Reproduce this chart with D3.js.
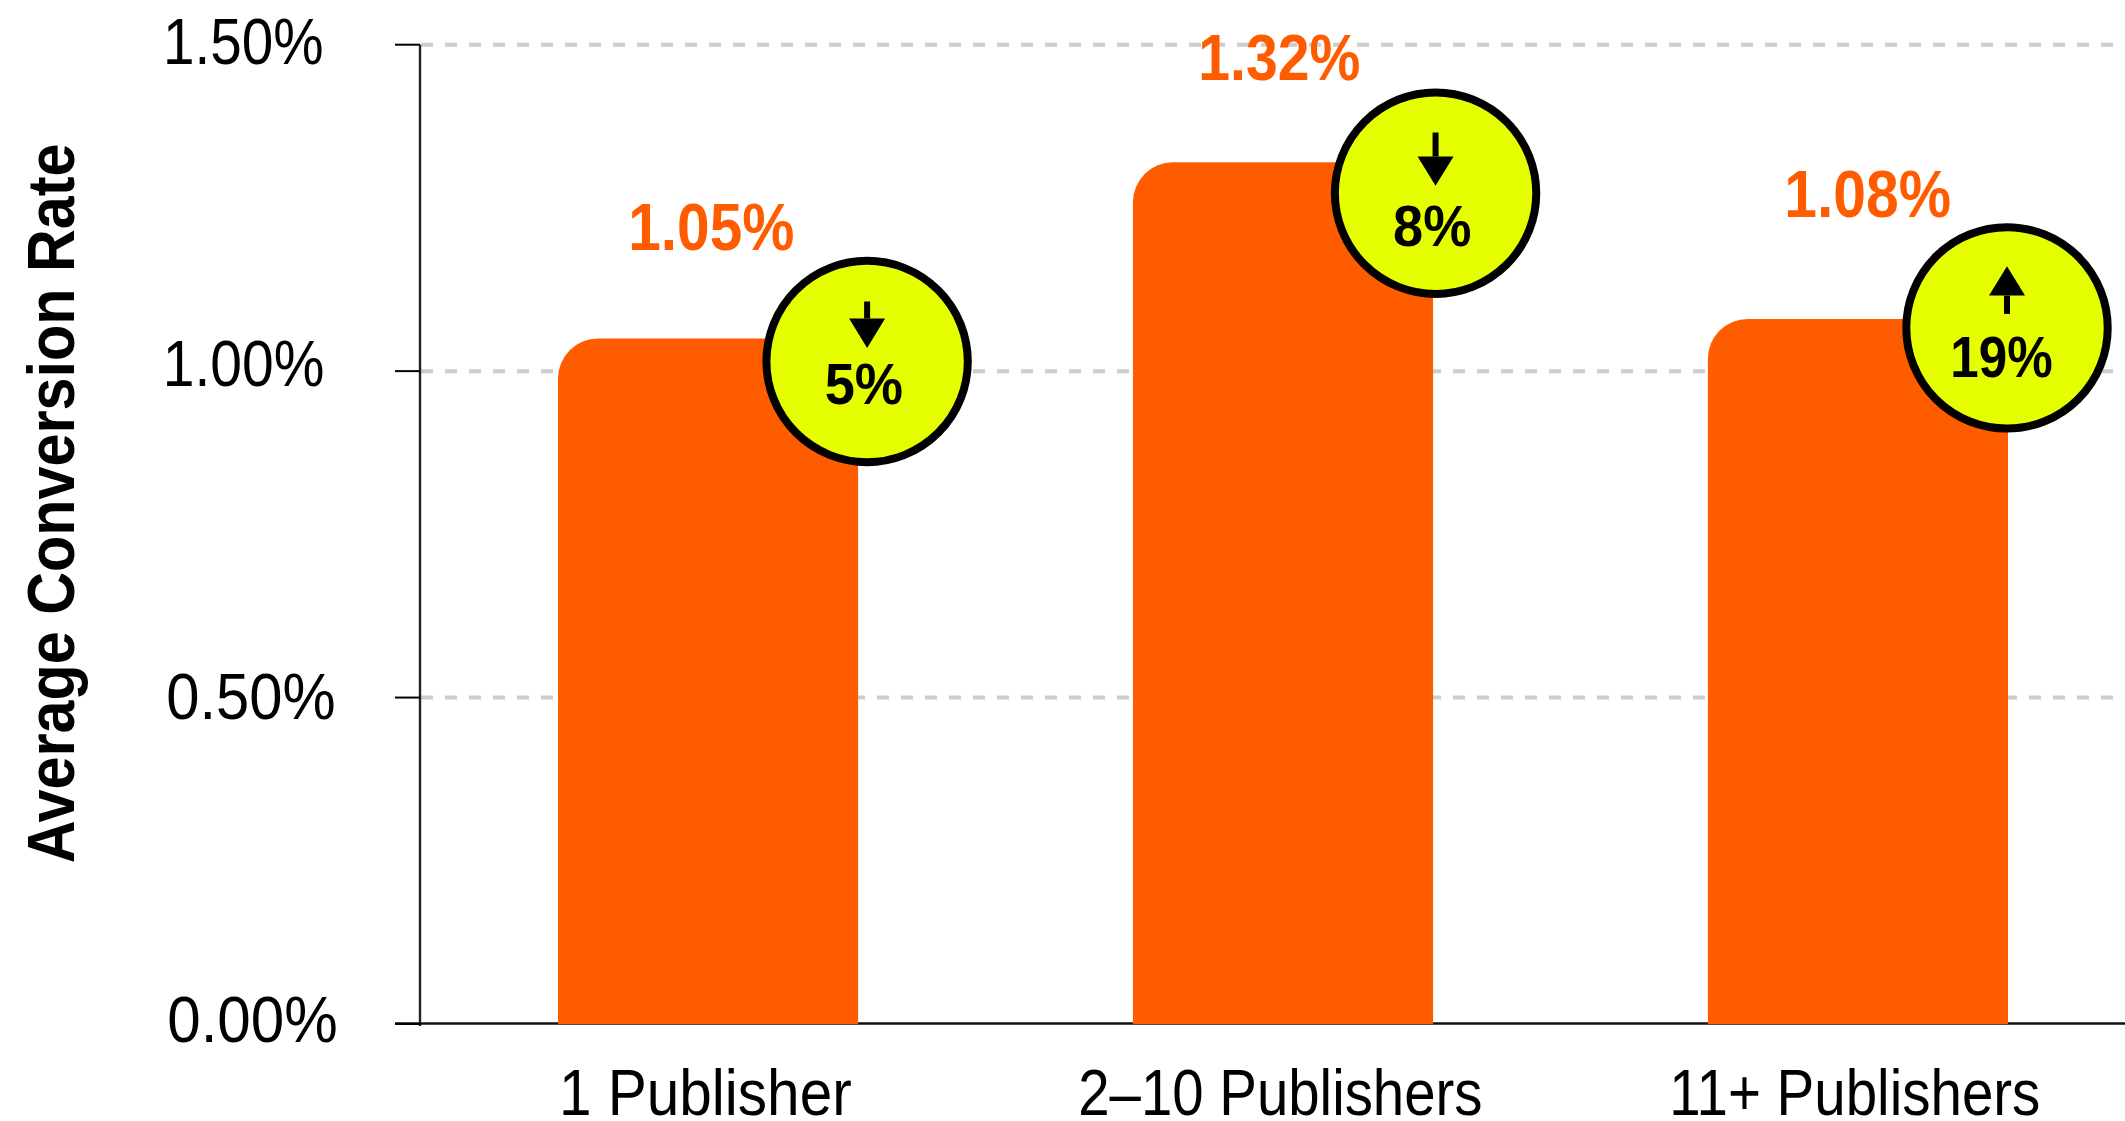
<!DOCTYPE html>
<html><head><meta charset="utf-8"><script src="https://cdn.jsdelivr.net/npm/d3@7"></script>
<style>html,body{margin:0;padding:0;background:#fff}svg{display:block}text{font-family:"Liberation Sans",Arial,sans-serif}</style></head><body>
<svg id="c" width="2125" height="1121"></svg>
<script>
const categories=["1 Publisher","2–10 Publishers","11+ Publishers"];
const values=[1.05,1.32,1.08];
const valueLabels=["1.05%","1.32%","1.08%"];
const changes=["5%","8%","19%"];
const directions=["down","down","up"];
const yTicks=[0,0.5,1,1.5];
const yTickLabels=["0.00%","0.50%","1.00%","1.50%"];
const axisTitle="Average Conversion Rate";
// layout offsets (style only)
const badgeDx=[9,2.5,-1], badgeDy=[23,31,9], labelDy=[-88,-82,-102], labelDx=[4.5,-2.5,11], tickDy=[18,21,15,19];
const orange="#ff5c00",lime="#e6ff00";
const svg=d3.select("#c");
const y=d3.scaleLinear().domain([0,1.5]).range([1024,44.7]);
const x=d3.scaleBand().domain(categories).range([420,2146]).paddingInner(0.478).paddingOuter(0.24);
const bw=x.bandwidth(),r=40;
const cv=document.createElement("canvas").getContext("2d");
// place text so its ink spans exactly a given width and cap height
function fit(g,str,cxp,base,w,h,weight,fill,rot){
  const f=100;cv.font=`${weight} ${f}px "Liberation Sans"`;
  const m=cv.measureText(str);
  const inkW=m.actualBoundingBoxRight+m.actualBoundingBoxLeft;
  const capH=cv.measureText("0").actualBoundingBoxAscent;
  const fs=f*h/capH, sx=w/(inkW*fs/f);
  const inkL=-m.actualBoundingBoxLeft*fs/f*sx;
  const t=g.append("text").attr("font-size",fs).attr("font-weight",weight).attr("fill",fill).text(str);
  if(rot) t.attr("transform",`translate(${base},${cxp+w/2}) rotate(-90) scale(${sx},1)`).attr("x",-inkL/sx);
  else t.attr("transform",`translate(${cxp-w/2-inkL},${base}) scale(${sx},1)`);
  return t;
}
const grid=svg.append("g"),axes=svg.append("g"),bars=svg.append("g"),labels=svg.append("g"),badges=svg.append("g");
grid.selectAll("line").data(yTicks.filter(t=>t>0)).join("line").attr("x1",x.range()[0]).attr("x2",2125).attr("y1",y).attr("y2",y).attr("stroke","#ccc").attr("stroke-width",4).attr("stroke-dasharray","12 12").attr("stroke-dashoffset",-1);
const base=y(0),lx=x.range()[0];
axes.append("line").attr("x1",lx).attr("x2",lx).attr("y1",y(1.5)).attr("y2",base+2).attr("stroke","#222").attr("stroke-width",2.4);
axes.append("line").attr("x1",395).attr("x2",2125).attr("y1",base-0.5).attr("y2",base-0.5).attr("stroke","#111").attr("stroke-width",2.6);
yTicks.forEach((t,i)=>{
  axes.append("line").attr("x1",395).attr("x2",lx).attr("y1",y(t)).attr("y2",y(t)).attr("stroke","#000").attr("stroke-width",2);
  const widths=[167,166,156,155], cs=[252.5,251,244.7,244.5];
  fit(labels,yTickLabels[i],cs[i],y(t)+tickDy[i],widths[i],45.5,400,"#000");
});
fit(labels,axisTitle,503.5,73.5,717,47,700,"#000",true);
const catW=[288,400,365.5],catC=[707,1281,1856];
categories.forEach((c,i)=>{
  const l=x(c),rr=l+bw,yt=y(values[i]),xc=l+bw/2;
  bars.append("path").attr("d",`M${l},${base}V${yt+r}A${r},${r} 0 0 1 ${l+r},${yt}H${rr}V${base}Z`).attr("fill",orange);
  fit(labels,valueLabels[i],xc+labelDx[i],yt+labelDy[i],[161.6,157.6,162.3][i],46,700,orange);
  fit(labels,c,catC[i],1115,catW[i],46,400,"#000");
  const bx=rr+badgeDx[i],by=yt+badgeDy[i];
  const b=badges.append("g").attr("transform",`translate(${bx},${by})`);
  b.append("circle").attr("r",100.7).attr("fill",lime).attr("stroke","#000").attr("stroke-width",8);
  const [st,hb,tip]=[[-60,-43,-13.5],[-60.7,-36.7,-7.4],[-14,-32.3,-61.7]][i];
  b.append("line").attr("y1",st).attr("y2",hb).attr("stroke","#000").attr("stroke-width",6);
  b.append("path").attr("d",`M-18,${hb}H18L0,${tip}Z`).attr("fill","#000");
  fit(b,changes[i],[-3,-3,-4.5][i],[43,53,49][i],[75.7,75.7,98.4][i],40,700,"#000");
});
</script></body></html>
